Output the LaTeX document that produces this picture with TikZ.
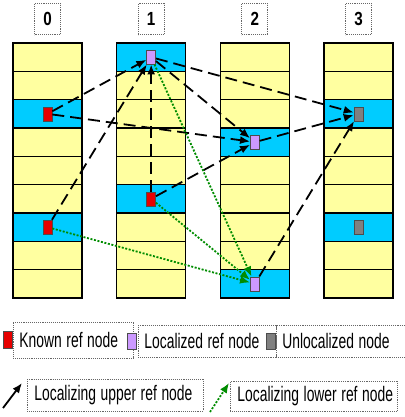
\documentclass[tikz,border=0pt]{standalone}
\usepackage{fontspec}
\newfontfamily\legfont{Liberation Sans}
\usetikzlibrary{arrows.meta, positioning}

\newcommand\squeeze[2][0.66]{\scalebox{#1}[1]{#2}}

\definecolor{cellyellow}{RGB}{255,255,160}
\definecolor{bandcyan}{RGB}{0,204,255}
\definecolor{knownred}{RGB}{230,0,0}
\definecolor{locpurple}{RGB}{204,153,255}
\definecolor{unlocgray}{RGB}{128,128,128}
\definecolor{lowgreen}{RGB}{0,140,0}

\tikzset{
  cell/.style={draw, line width=1.6pt, fill=cellyellow, minimum width=69pt, minimum height=28.33pt, inner sep=0pt},
  band/.style={cell, fill=bandcyan},
  refnode/.style={draw=black!70, line width=0.6pt, minimum width=9pt, minimum height=14pt, inner sep=0pt},
  known/.style={refnode, fill=knownred},
  localized/.style={refnode, fill=locpurple},
  unlocalized/.style={refnode, fill=unlocgray},
  upper/.style={-{Latex[length=10pt,width=8pt]}, line width=1.8pt, dash pattern=on 12pt off 6pt},
  lower/.style={-{Latex[length=10pt,width=8pt]}, line width=1.8pt, lowgreen, dash pattern=on 2pt off 1.6pt},
  dotbox/.style={draw=black!60, densely dotted, line width=0.9pt, inner xsep=6pt, inner ysep=0pt, align=left, font=\legfont\fontsize{21}{22}\selectfont},
  hdr/.style={dotbox, minimum width=26pt, minimum height=31pt, inner xsep=0pt, align=center, font=\legfont\bfseries\fontsize{19}{20}\selectfont},
}

\begin{document}
\begin{tikzpicture}[x=1pt, y=-1pt]
    \useasboundingbox (0,0) rectangle (404,417);

    % columns of slots
    \foreach \c in {0,...,3} {
        \foreach \r in {0,...,8}
            \node (c\c-\r) [cell] at ({47.5+103.67*\c}, {43+28.33*(\r+0.5)}) {};
        \node (h\c) [hdr, above=7pt of c\c-0] {\squeeze[0.8]{\c}};
    }
    \foreach \c/\r in {0/2, 0/6, 1/0, 1/5, 2/3, 2/8, 3/2, 3/6}
        \node (b\c-\r) [band] at (c\c-\r) {};

    % reference nodes
    \node (k0a) [known] at (c0-2) {};
    \node (k0b) [known] at (c0-6) {};
    \node (l1a) [localized] at (c1-0) {};
    \node (k1b) [known] at (c1-5) {};
    \node (l2a) [localized] at (c2-3) {};
    \node (l2b) [localized] at (c2-8) {};
    \node (u3a) [unlocalized] at (c3-2) {};
    \node (u3b) [unlocalized] at (c3-6) {};

    \path [upper]
        (k0a) edge (l1a)
        (k0b) edge (l1a)
        (k1b) edge (l1a)
        (k0a) edge (l2a)
        (l1a) edge (l2a)
        (k1b) edge (l2a)
        (l1a) edge (u3a)
        (l2a) edge (u3a)
        (l2b) edge (u3a);
    \path [lower]
        (l1a) edge (l2b)
        (k0b) edge (l2b)
        (k1b) edge (l2b);

    % legend
    \node (kbox) [dotbox, text width=108pt, minimum height=36pt, anchor=west] at (13,340) {\squeeze{Known ref node}};
    \node (lbox) [dotbox, text width=126pt, minimum height=32pt, anchor=west] at (138,341) {\squeeze{Localized ref node}};
    \node (ubox) [dotbox, text width=118pt, minimum height=32pt, anchor=west] at (276,341) {\squeeze{Unlocalized node}};
    \node (kleg) [known, minimum height=17pt, left=0pt of kbox] {};
    \node (lleg) [localized, minimum height=16pt, left=1pt of lbox] {};
    \node (uleg) [unlocalized, minimum height=16pt, left=0pt of ubox] {};

    \node (upbox) [dotbox, inner xsep=7pt, text width=162pt, minimum height=32pt, anchor=west] at (27,395) {\squeeze{Localizing upper ref node}};
    \node (lobox) [dotbox, inner xsep=7pt, text width=153pt, minimum height=30pt, anchor=west] at (230,396) {\squeeze{Localizing lower ref node}};
    \coordinate (ua0) at (3,408);
    \coordinate (ua1) at (22,383);
    \coordinate (la0) at (210,412);
    \coordinate (la1) at (229,383);
    \draw [upper, solid] (ua0) -- (ua1);
    \draw [lower] (la0) -- (la1);
\end{tikzpicture}
\end{document}
